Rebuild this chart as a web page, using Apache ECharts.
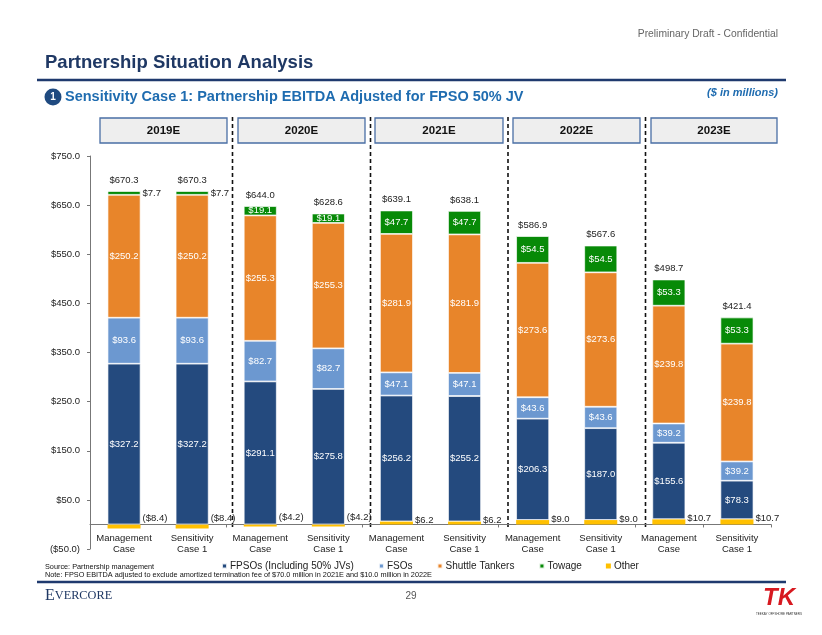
<!DOCTYPE html>
<html><head><meta charset="utf-8">
<script src="https://cdn.jsdelivr.net/npm/echarts@6/dist/echarts.min.js"></script>
<style>html,body{margin:0;padding:0;background:#fff}#c{width:822px;height:635px}</style>
</head><body><div id="c"></div>
<script>
// ---- data ----
const categories = ['Management\nCase','Sensitivity\nCase 1','Management\nCase','Sensitivity\nCase 1','Management\nCase','Sensitivity\nCase 1','Management\nCase','Sensitivity\nCase 1','Management\nCase','Sensitivity\nCase 1'];
const yearLabels = ['2019E','2020E','2021E','2022E','2023E'];
const seriesNames = ['FPSOs (Including 50% JVs)','FSOs','Shuttle Tankers','Towage','Other'];
const fpso    = [327.2, 327.2, 291.1, 275.8, 256.2, 255.2, 206.3, 187.0, 155.6, 78.3];
const fso     = [93.6, 93.6, 82.7, 82.7, 47.1, 47.1, 43.6, 43.6, 39.2, 39.2];
const shuttle = [250.2, 250.2, 255.3, 255.3, 281.9, 281.9, 273.6, 273.6, 239.8, 239.8];
const towage  = [7.7, 7.7, 19.1, 19.1, 47.7, 47.7, 54.5, 54.5, 53.3, 53.3];
const other   = [-8.4, -8.4, -4.2, -4.2, 6.2, 6.2, 9.0, 9.0, 10.7, 10.7];
const totals  = [670.3, 670.3, 644.0, 628.6, 639.1, 638.1, 586.9, 567.6, 498.7, 421.4];
const yMin = -50, yMax = 750, yStep = 100;

// ---- styling ----
const FONT = "'Liberation Sans', Arial, sans-serif";
const colors = {fpso:'#244A7E', fso:'#6C98D0', shuttle:'#E8852A', towage:'#078A07', other:'#FFC000'};
const NAVY = '#1F3A6E', BLUE = '#1F6CB0';
const fmt = v => v < 0 ? '($' + Math.abs(v).toFixed(1) + ')' : '$' + v.toFixed(1);
const BW = 33;
const segBorder = {borderColor:'rgba(255,255,255,0.85)', borderWidth:0.8};

function segSeries(name, data, color) {
  return {
    name, type:'bar', stack:'a', barWidth:BW, data,
    itemStyle:Object.assign({color}, segBorder),
    label:{show:true, position:'inside', color:'#fff', fontFamily:FONT, fontSize:9.5, formatter:p=>fmt(p.value)}
  };
}

const chart = echarts.init(document.getElementById('c'), null, {renderer:'canvas'});

const series = [
  {
    name:seriesNames[4], type:'bar', stack:'a', barWidth:BW,
    data: other.map(v => ({value:v, label:{offset: v < 0 ? [0,-8] : [0,-3]}})),
    itemStyle:{color:colors.other},
    label:{show:true, position:'right', distance:2, color:'#222', fontFamily:FONT, fontSize:9.5, formatter:p=>fmt(p.value)}
  },
  segSeries(seriesNames[0], fpso, colors.fpso),
  segSeries(seriesNames[1], fso, colors.fso),
  segSeries(seriesNames[2], shuttle, colors.shuttle),
  segSeries(seriesNames[3], towage.map(v => v < 10 ? {value:v, label:{position:'right', distance:2, color:'#222'}} : v), colors.towage),
  {
    name:'Total', type:'bar', stack:'a', barWidth:BW,
    data: totals.map(() => 0),
    itemStyle:{color:'rgba(0,0,0,0)'},
    label:{show:true, position:'top', distance:6, color:'#222', fontFamily:FONT, fontSize:9.5, formatter:p=>fmt(totals[p.dataIndex])}
  }
];

const graphics = [];
// header
graphics.push({type:'text', right:44, top:29, style:{text:'Preliminary Draft - Confidential', fill:'#666', font:'10.3px ' + FONT}});
graphics.push({type:'text', left:45, top:53, style:{text:'Partnership Situation Analysis', fill:'#1F3864', font:'bold 18.5px ' + FONT}});
graphics.push({type:'line', shape:{x1:37, y1:80, x2:786, y2:80}, style:{stroke:NAVY, lineWidth:2.5}});
graphics.push({type:'circle', shape:{cx:53, cy:97, r:8.5}, style:{fill:'#1F4A80'}});
graphics.push({type:'text', x:53, y:97, style:{text:'1', fill:'#fff', font:'bold 10px ' + FONT, align:'center', verticalAlign:'middle'}});
graphics.push({type:'text', x:65, y:97, style:{text:'Sensitivity Case 1: Partnership EBITDA Adjusted for FPSO 50% JV', fill:BLUE, font:'bold 14.5px ' + FONT, verticalAlign:'middle'}});
graphics.push({type:'text', x:778, y:93, style:{text:'($ in millions)', fill:BLUE, font:'italic bold 11px ' + FONT, align:'right', verticalAlign:'middle'}});
// year boxes
const boxX = [[100,227],[238,365],[375,503],[513,640],[651,777]];
yearLabels.forEach((t,i) => {
  graphics.push({type:'rect', shape:{x:boxX[i][0], y:118, width:boxX[i][1]-boxX[i][0], height:25}, style:{fill:'#EEEEEE', stroke:'#4A6FA5', lineWidth:1.3}});
  graphics.push({type:'text', x:(boxX[i][0]+boxX[i][1])/2, y:130.5, style:{text:t, fill:'#111', font:'bold 11.5px ' + FONT, align:'center', verticalAlign:'middle'}});
});
// dashed separators
[232.5, 370.5, 508, 645.5].forEach(x => {
  graphics.push({type:'line', shape:{x1:x, y1:117, x2:x, y2:527}, style:{stroke:'#111', lineWidth:1.6, lineDash:[4,3]}});
});
// footer
graphics.push({type:'text', x:45, y:567, style:{text:'Source: Partnership management', fill:'#111', font:'7.3px ' + FONT, verticalAlign:'middle'}});
graphics.push({type:'text', x:45, y:575, style:{text:'Note: FPSO EBITDA adjusted to exclude amortized termination fee of $70.0 million in 2021E and $10.0 million in 2022E', fill:'#111', font:'7.3px ' + FONT, verticalAlign:'middle'}});
graphics.push({type:'line', shape:{x1:37, y1:582, x2:786, y2:582}, style:{stroke:NAVY, lineWidth:2.5}});
graphics.push({type:'text', x:45, y:596, style:{text:'{a|E}{b|VERCORE}', verticalAlign:'middle', rich:{a:{fontFamily:"'Liberation Serif', serif", fontSize:16, fill:'#1F3864'}, b:{fontFamily:"'Liberation Serif', serif", fontSize:12.3, fill:'#1F3864'}}}});
graphics.push({type:'text', x:411, y:596, style:{text:'29', fill:'#555', font:'10px ' + FONT, align:'center', verticalAlign:'middle'}});
graphics.push({type:'text', x:779, y:598, style:{text:'TK', fill:'#D71920', font:'italic bold 24px ' + FONT, align:'center', verticalAlign:'middle'}});
graphics.push({type:'text', x:779, y:614, style:{text:'TEEKAY OFFSHORE PARTNERS', fill:'#333', font:'3px ' + FONT, align:'center', verticalAlign:'middle'}});

chart.setOption({
  animation:false,
  backgroundColor:'#fff',
  textStyle:{fontFamily:FONT},
  grid:{left:90, right:51, top:156, bottom:86, containLabel:false},
  legend:{
    data:seriesNames, top:561, left:221, itemWidth:5, itemHeight:5, itemGap:24, icon:'rect',
    selectedMode:false, padding:0,
    textStyle:{fontSize:10, color:'#222', fontFamily:FONT, padding:[0,0,0,-2]}
  },
  xAxis:{
    type:'category', data:categories,
    axisLine:{onZero:true, lineStyle:{color:'#777', width:1}},
    axisTick:{show:true, interval:1, length:3, lineStyle:{color:'#777'}},
    axisLabel:{color:'#222', fontSize:9.5, lineHeight:11, margin:-16, interval:0, fontFamily:FONT}
  },
  yAxis:{
    type:'value', min:yMin, max:yMax, interval:yStep,
    axisLine:{show:true, lineStyle:{color:'#777', width:1}},
    axisTick:{show:true, length:3, lineStyle:{color:'#777'}},
    splitLine:{show:false},
    axisLabel:{color:'#222', fontSize:9.5, margin:10, fontFamily:FONT, formatter:v=>fmt(v)}
  },
  series,
  graphic:{elements:graphics}
});
</script></body></html>
